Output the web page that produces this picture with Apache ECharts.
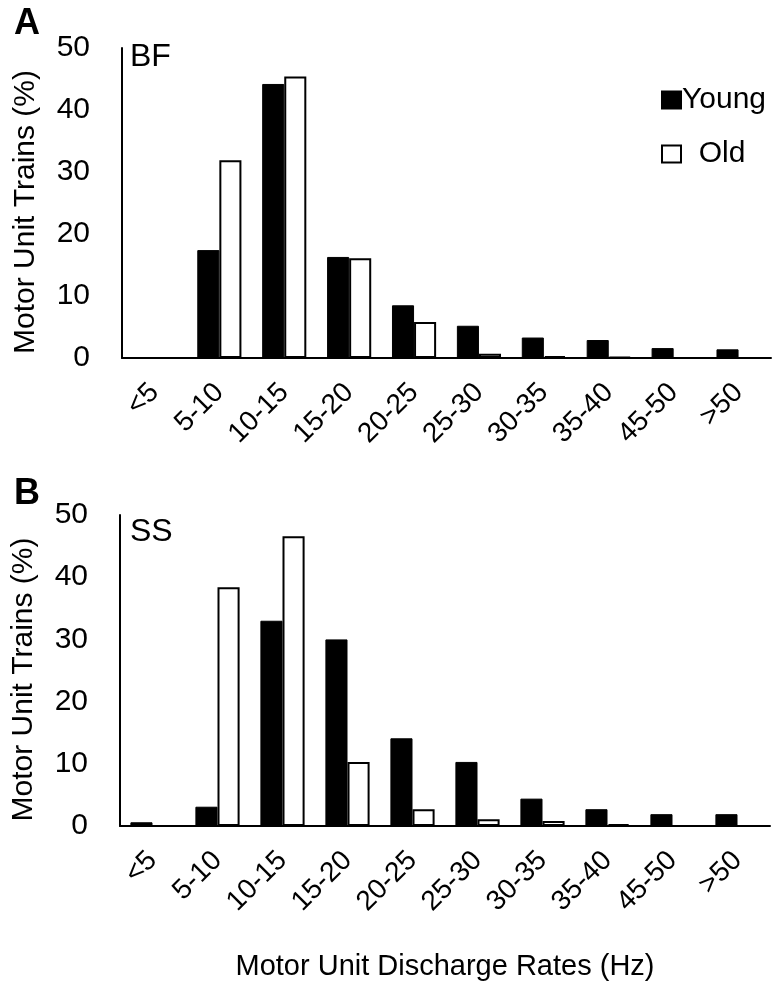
<!DOCTYPE html>
<html>
<head>
<meta charset="utf-8">
<script src="https://cdn.jsdelivr.net/npm/echarts@6/dist/echarts.min.js"></script>
<style>html,body{margin:0;padding:0;background:#fff}#c{width:776px;height:985px}</style>
</head>
<body>
<div id="c"></div>
<script>
var categories = ['<5','5-10','10-15','15-20','20-25','25-30','30-35','35-40','45-50','>50'];
var bfYoung = [0, 17.4, 44.2, 16.3, 8.5, 5.2, 3.3, 2.9, 1.6, 1.4];
var bfOld   = [0, 31.9, 45.4, 16.1, 5.8, 0.7, 0.3, 0.2, 0, 0];
var ssYoung = [0.6, 3.1, 33.0, 30.0, 14.1, 10.3, 4.4, 2.7, 1.9, 1.9];
var ssOld   = [0, 38.4, 46.6, 10.3, 2.7, 1.1, 0.8, 0.3, 0, 0];
var yTicks = [0, 10, 20, 30, 40, 50];

var FONT = '"Liberation Sans", Arial, sans-serif';
var chart = echarts.init(document.getElementById('c'), null, {renderer: 'canvas'});

function xAxis(idx) {
  return {
    type: 'category', gridIndex: idx, data: categories,
    axisTick: {show: false},
    axisLine: {show: true, lineStyle: {color: '#000', width: 2}},
    axisLabel: {rotate: 45, interval: 0, margin: 30, color: '#000', fontSize: 28, fontFamily: FONT},
    name: idx === 1 ? 'Motor Unit Discharge Rates (Hz)' : '',
    nameLocation: 'middle', nameGap: 126,
    nameTextStyle: {color: '#000', fontSize: 29, fontFamily: FONT}
  };
}
function yAxis(idx) {
  return {
    type: 'value', gridIndex: idx, min: yTicks[0], max: yTicks[yTicks.length - 1], interval: 10,
    splitLine: {show: false}, axisTick: {show: false},
    axisLine: {show: true, lineStyle: {color: '#000', width: 2}},
    axisLabel: {margin: 32, color: '#000', fontSize: 30, fontFamily: FONT},
    name: 'Motor Unit Trains (%)', nameLocation: 'middle', nameGap: 81, nameRotate: 90,
    nameTextStyle: {color: '#000', fontSize: 30, fontFamily: FONT, padding: [0, 18, 0, 0]}
  };
}
var youngStyle = {color: '#000', borderColor: '#000', borderWidth: 1};
var oldStyle = {color: '#fff', borderColor: '#000', borderWidth: 2};

chart.setOption({
  animation: false,
  backgroundColor: '#fff',
  grid: [
    {left: 122, right: 5, top: 48, height: 310},
    {left: 120, right: 6, top: 515, height: 311}
  ],
  xAxis: [xAxis(0), xAxis(1)],
  yAxis: [yAxis(0), yAxis(1)],
  legend: {
    orient: 'vertical', left: 656, top: 80, itemWidth: 19, itemHeight: 17, itemGap: 24,
    icon: 'rect',
    data: ['Young', 'Old'],
    formatter: function (n) { return n === 'Old' ? '  Old' : n; },
    textStyle: {color: '#000', fontSize: 30, fontFamily: FONT, lineHeight: 30, padding: [0, 0, 0, -4]}
  },
  series: [
    {name: 'Young', type: 'bar', xAxisIndex: 0, yAxisIndex: 0, data: bfYoung, itemStyle: youngStyle, barGap: '0%', barCategoryGap: '32%'},
    {name: 'Old', type: 'bar', xAxisIndex: 0, yAxisIndex: 0, data: bfOld, itemStyle: oldStyle, barGap: '0%', barCategoryGap: '32%'},
    {name: 'Young', type: 'bar', xAxisIndex: 1, yAxisIndex: 1, data: ssYoung, itemStyle: youngStyle, barGap: '0%', barCategoryGap: '32%'},
    {name: 'Old', type: 'bar', xAxisIndex: 1, yAxisIndex: 1, data: ssOld, itemStyle: oldStyle, barGap: '0%', barCategoryGap: '32%'}
  ],
  graphic: [
    {type: 'text', x: 14, y: 24, style: {text: 'A', fontSize: 36, fontWeight: 'bold', fontFamily: FONT, fill: '#000', verticalAlign: 'middle'}},
    {type: 'text', x: 14, y: 494, style: {text: 'B', fontSize: 36, fontWeight: 'bold', fontFamily: FONT, fill: '#000', verticalAlign: 'middle'}},
    {type: 'text', x: 130, y: 57, style: {text: 'BF', fontSize: 32, fontFamily: FONT, fill: '#000', verticalAlign: 'middle'}},
    {type: 'text', x: 130, y: 532, style: {text: 'SS', fontSize: 32, fontFamily: FONT, fill: '#000', verticalAlign: 'middle'}}
  ]
});
</script>
</body>
</html>
